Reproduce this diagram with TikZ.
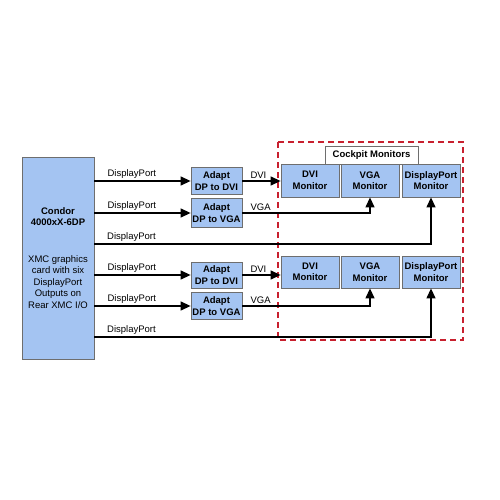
\documentclass[tikz,border=0pt]{standalone}
\usepackage{fontspec}
\setmainfont{Liberation Sans}
\usetikzlibrary{arrows.meta,positioning}
\definecolor{boxblue}{HTML}{A4C4F2}
\definecolor{boxline}{HTML}{6E6E6E}
\definecolor{frame}{HTML}{C8202E}

\begin{document}
\begin{tikzpicture}[
  x=1pt,y=-1pt,
  font=\fontsize{9.5}{11.5}\selectfont,
  unit/.style={draw=boxline,fill=boxblue,line width=.8pt,align=center,inner sep=0pt,font=\fontsize{9.5}{11.5}\selectfont\bfseries},
  adapter/.style={unit,minimum width=51pt},
  monitor/.style={unit,minimum width=58pt},
  link/.style={line width=1.3pt,-{Triangle[length=10pt,width=9pt]}},
  tag/.style={anchor=south west,inner sep=1.5pt}
]
  \useasboundingbox (0,0) rectangle (500,500);

  % graphics card
  \node[unit,minimum width=72pt,minimum height=202pt] (card) at (58,258)
    {Condor\\4000xX-6DP\\[25pt]\mdseries XMC graphics\\\mdseries card with six\\\mdseries DisplayPort\\\mdseries Outputs on\\\mdseries Rear XMC I/O};

  % adapters
  \node[adapter,minimum height=27pt] (dvia) at (216.5,181) {Adapt\\DP to DVI};
  \node[adapter,minimum height=29pt] (vgaa) at (216.5,213) {Adapt\\DP to VGA};
  \node[adapter,minimum height=26pt] (dvib) at (216.5,275) {Adapt\\DP to DVI};
  \node[adapter,minimum height=27pt] (vgab) at (216.5,306) {Adapt\\DP to VGA};

  % cockpit frame
  \draw[frame,line width=1.3pt,dash pattern=on 6pt off 4pt] (278,142) rectangle (463,340);
  \node[draw=boxline,fill=white,line width=.8pt,minimum width=93pt,minimum height=18pt,inner sep=0pt,font=\fontsize{9.5}{11.5}\selectfont\bfseries] (cockpit) at (371.5,155) {Cockpit Monitors};

  % monitors
  \node[monitor,minimum height=33pt] (dvim) at (310,180.5) {DVI\\Monitor};
  \node[monitor,minimum height=33pt] (vgam) at (370,180.5) {VGA\\Monitor};
  \node[monitor,minimum height=33pt] (dpm) at (431,180.5) {DisplayPort\\Monitor};
  \node[monitor,minimum height=32pt] (dvin) at (310,272) {DVI\\Monitor};
  \node[monitor,minimum height=32pt] (vgan) at (370,272) {VGA\\Monitor};
  \node[monitor,minimum height=32pt] (dpn) at (431,272) {DisplayPort\\Monitor};

  % upper group
  \draw[link] (card.east |- dvia.west) -- node[tag,pos=0,xshift=11pt]{DisplayPort} (dvia.west);
  \draw[link] (card.east |- vgaa.west) -- node[tag,pos=0,xshift=11pt]{DisplayPort} (vgaa.west);
  \draw[link] (dvia.east) -- node[tag,pos=0,xshift=6pt]{DVI} (dvim.west |- dvia.east);
  \draw[link] (vgaa.east) -| node[tag,pos=0,xshift=6pt]{VGA} (vgam.south);
  \coordinate (dpup) at (94,244);
  \draw[link] (dpup) -| node[tag,pos=0,xshift=11pt]{DisplayPort} (dpm.south);

  % lower group
  \draw[link] (card.east |- dvib.west) -- node[tag,pos=0,xshift=11pt]{DisplayPort} (dvib.west);
  \draw[link] (card.east |- vgab.west) -- node[tag,pos=0,xshift=11pt]{DisplayPort} (vgab.west);
  \draw[link] (dvib.east) -- node[tag,pos=0,xshift=6pt]{DVI} (dvin.west |- dvib.east);
  \draw[link] (vgab.east) -| node[tag,pos=0,xshift=6pt]{VGA} (vgan.south);
  \coordinate (dplow) at (94,337);
  \draw[link] (dplow) -| node[tag,pos=0,xshift=11pt]{DisplayPort} (dpn.south);
\end{tikzpicture}
\end{document}
